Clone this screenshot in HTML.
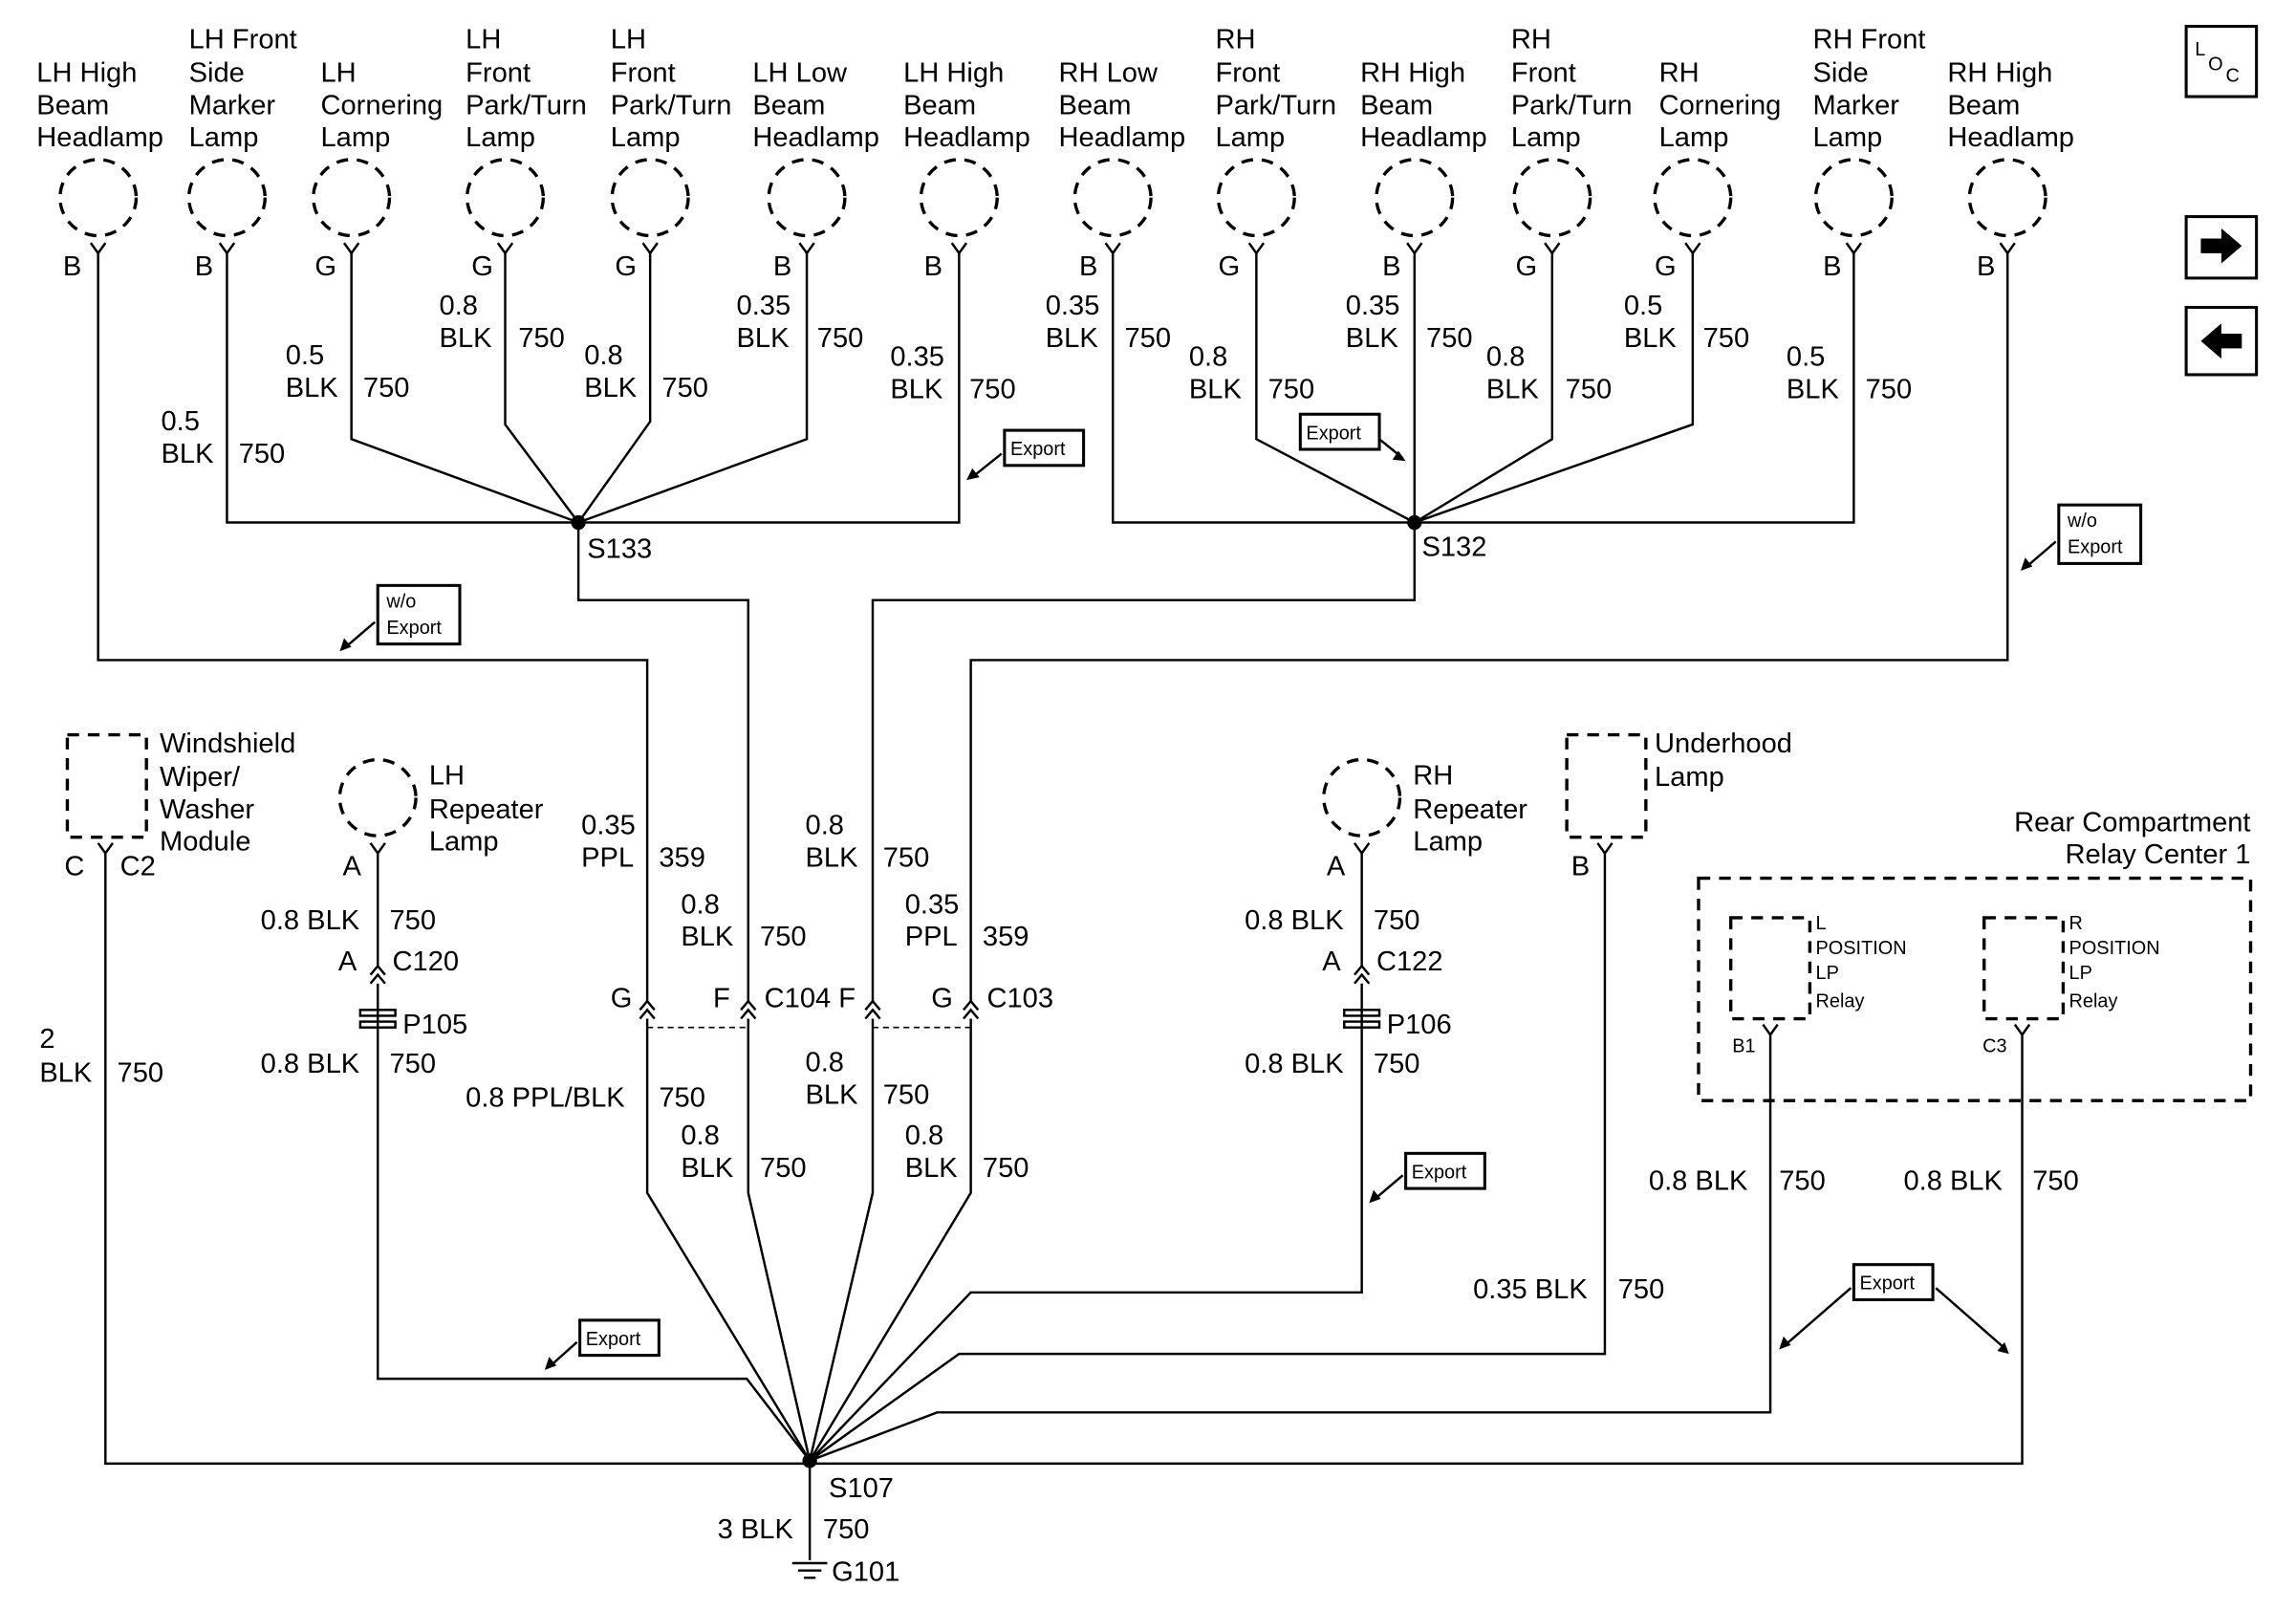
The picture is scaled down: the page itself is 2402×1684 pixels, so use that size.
<!DOCTYPE html>
<html><head><meta charset="utf-8"><style>
html,body{margin:0;padding:0;background:#fff;}
svg{display:block}
text{font-family:"Liberation Sans",Arial,sans-serif;font-size:19px;fill:#000}
.s{font-size:13px}
</style></head><body>
<svg width="2402" height="1684" viewBox="0 0 1568 1100" preserveAspectRatio="none" xmlns="http://www.w3.org/2000/svg">
<g fill="none" stroke="#000" stroke-width="1.6">
<g stroke-dasharray="8,6" stroke-width="2.2">
<circle cx="67" cy="135" r="26"/><circle cx="155" cy="135" r="26"/><circle cx="240" cy="135" r="26"/>
<circle cx="345" cy="135" r="26"/><circle cx="444" cy="135" r="26"/><circle cx="551" cy="135" r="26"/>
<circle cx="655" cy="135" r="26"/><circle cx="760" cy="135" r="26"/><circle cx="858" cy="135" r="26"/>
<circle cx="966" cy="135" r="26"/><circle cx="1060" cy="135" r="26"/><circle cx="1156" cy="135" r="26"/>
<circle cx="1266" cy="135" r="26"/><circle cx="1371" cy="135" r="26"/>
<circle cx="258" cy="545" r="26"/><circle cx="930" cy="545" r="26"/>
<rect x="46" y="502" width="54" height="70"/><rect x="1070" y="502" width="54" height="70"/>
<rect x="1160" y="600" width="377" height="152"/>
<rect x="1182" y="627" width="54" height="69"/><rect x="1355" y="627" width="54" height="69"/>
<path d="M442 702H511M596 702H663" stroke-width="1" stroke-dasharray="4,3"/>
</g>
<g>
<path d="M62 166L67 173L72 166M150 166L155 173L160 166M235 166L240 173L245 166M340 166L345 173L350 166M439 166L444 173L449 166M546 166L551 173L556 166M650 166L655 173L660 166M755 166L760 173L765 166M853 166L858 173L863 166M961 166L966 173L971 166M1055 166L1060 173L1065 166M1151 166L1156 173L1161 166M1261 166L1266 173L1271 166M1366 166L1371 173L1376 166"/>
<path d="M253 576L258 583L263 576M925 576L930 583L935 576M67 576L72 583L77 576M1091 576L1096 583L1101 576M1204 700L1209 707L1214 700M1376 700L1381 707L1386 700"/>
<path d="M253 666L258 660L263 666M253 672L258 666L263 672M925 666L930 660L935 666M925 672L930 666L935 672"/>
<path d="M437 690L442 684L447 690M437 696L442 690L447 696M506 690L511 684L516 690M506 696L511 690L516 696M591 690L596 684L601 690M591 696L596 690L601 696M658 690L663 684L668 690M658 696L663 690L668 696"/>
</g>
<path d="M67 173V451H442V684"/>
<path d="M155 173V357H395M240 173V300L395 357M345 173V290L395 357M444 173V288L395 357M551 173V300L395 357M655 173V357H395"/>
<path d="M395 357V410H511V684"/>
<path d="M760 173V357H966M858 173V300L966 357M966 173V357M1060 173V300L966 357M1156 173V290L966 357M1266 173V357H966"/>
<path d="M966 357V410H596V684"/>
<path d="M1371 173V451H663V684"/>
<path d="M442 696V815L553 998M511 696V815L553 998M596 696V815L553 998M663 696V815L553 998"/>
<path d="M72 583V1000H1381V707"/>
<path d="M258 583V660M258 672V942H510L553 998"/>
<path d="M930 583V660M930 672V883H663L553 998"/>
<path d="M1096 583V925H655L553 998"/>
<path d="M1209 707V965H640L553 998"/>
<path d="M553 998V1066"/>
<path d="M541 1068H565M545 1073H561M549 1078H557"/>
<rect x="246" y="690" width="24" height="4"/><rect x="246" y="698" width="24" height="4"/>
<rect x="918" y="690" width="24" height="4"/><rect x="918" y="698" width="24" height="4"/>
<g stroke-width="2"><rect x="686" y="294" width="54" height="24"/><rect x="888" y="283" width="54" height="24"/>
<rect x="258" y="400" width="56" height="40"/><rect x="1406" y="345" width="56" height="40"/>
<rect x="960" y="788" width="54" height="24"/><rect x="396" y="902" width="54" height="24"/>
<rect x="1266" y="864" width="54" height="24"/>
<rect x="1493" y="18" width="48" height="48"/><rect x="1493" y="148" width="48" height="42"/><rect x="1493" y="210" width="48" height="46"/></g>
<path d="M684 310L664 326M942 300L958 313M256 425L235 443M1404 370L1383 388M958 803L938 820M394 917L375 934M1264 880L1218 920M1322 880L1370 922"/>
</g>
<g fill="#000">
<path d="M660 328l9-2-5-6zM960 315l-9-1 4-6zM232 445l8-3-5-6zM1380 390l8-3-5-6zM935 822l8-3-5-6zM372 936l8-3-5-6zM1215 922l8-3-5-6zM1372 925l-3-8-5 6z"/>
<circle cx="395" cy="357" r="5"/><circle cx="966" cy="357" r="5"/><circle cx="553" cy="998" r="5"/>
<path d="M1503 163h14v-7l14 12-14 12v-7h-14z"/><path d="M1531 228h-14v-7l-14 12 14 12v-7h14z"/>
</g>
<text x="1499" y="38" class="s">L</text><text x="1508" y="48" class="s">O</text><text x="1520" y="56" class="s">C</text>
<text x="25" y="56">LH High</text><text x="25" y="78">Beam</text><text x="25" y="100">Headlamp</text>
<text x="129" y="33">LH Front</text><text x="129" y="56">Side</text><text x="129" y="78">Marker</text><text x="129" y="100">Lamp</text>
<text x="219" y="56">LH</text><text x="219" y="78">Cornering</text><text x="219" y="100">Lamp</text>
<text x="318" y="33">LH</text><text x="318" y="56">Front</text><text x="318" y="78">Park/Turn</text><text x="318" y="100">Lamp</text>
<text x="417" y="33">LH</text><text x="417" y="56">Front</text><text x="417" y="78">Park/Turn</text><text x="417" y="100">Lamp</text>
<text x="514" y="56">LH Low</text><text x="514" y="78">Beam</text><text x="514" y="100">Headlamp</text>
<text x="617" y="56">LH High</text><text x="617" y="78">Beam</text><text x="617" y="100">Headlamp</text>
<text x="723" y="56">RH Low</text><text x="723" y="78">Beam</text><text x="723" y="100">Headlamp</text>
<text x="830" y="33">RH</text><text x="830" y="56">Front</text><text x="830" y="78">Park/Turn</text><text x="830" y="100">Lamp</text>
<text x="929" y="56">RH High</text><text x="929" y="78">Beam</text><text x="929" y="100">Headlamp</text>
<text x="1032" y="33">RH</text><text x="1032" y="56">Front</text><text x="1032" y="78">Park/Turn</text><text x="1032" y="100">Lamp</text>
<text x="1133" y="56">RH</text><text x="1133" y="78">Cornering</text><text x="1133" y="100">Lamp</text>
<text x="1238" y="33">RH Front</text><text x="1238" y="56">Side</text><text x="1238" y="78">Marker</text><text x="1238" y="100">Lamp</text>
<text x="1330" y="56">RH High</text><text x="1330" y="78">Beam</text><text x="1330" y="100">Headlamp</text>
<text x="43" y="188">B</text><text x="133" y="188">B</text><text x="215" y="188">G</text><text x="322" y="188">G</text>
<text x="420" y="188">G</text><text x="528" y="188">B</text><text x="631" y="188">B</text><text x="737" y="188">B</text>
<text x="832" y="188">G</text><text x="944" y="188">B</text><text x="1035" y="188">G</text><text x="1130" y="188">G</text>
<text x="1245" y="188">B</text><text x="1350" y="188">B</text>
<text x="110" y="294">0.5</text><text x="110" y="316">BLK</text><text x="163" y="316">750</text>
<text x="195" y="249">0.5</text><text x="195" y="271">BLK</text><text x="248" y="271">750</text>
<text x="300" y="215">0.8</text><text x="300" y="237">BLK</text><text x="354" y="237">750</text>
<text x="399" y="249">0.8</text><text x="399" y="271">BLK</text><text x="452" y="271">750</text>
<text x="503" y="215">0.35</text><text x="503" y="237">BLK</text><text x="558" y="237">750</text>
<text x="608" y="250">0.35</text><text x="608" y="272">BLK</text><text x="662" y="272">750</text>
<text x="714" y="215">0.35</text><text x="714" y="237">BLK</text><text x="768" y="237">750</text>
<text x="812" y="250">0.8</text><text x="812" y="272">BLK</text><text x="866" y="272">750</text>
<text x="919" y="215">0.35</text><text x="919" y="237">BLK</text><text x="974" y="237">750</text>
<text x="1015" y="250">0.8</text><text x="1015" y="272">BLK</text><text x="1069" y="272">750</text>
<text x="1109" y="215">0.5</text><text x="1109" y="237">BLK</text><text x="1163" y="237">750</text>
<text x="1220" y="250">0.5</text><text x="1220" y="272">BLK</text><text x="1274" y="272">750</text>
<text x="401" y="381">S133</text><text x="971" y="380">S132</text>
<text x="690" y="311" class="s">Export</text><text x="892" y="300" class="s">Export</text>
<text x="264" y="415" class="s">w/o</text><text x="264" y="433" class="s">Export</text>
<text x="1412" y="360" class="s">w/o</text><text x="1412" y="378" class="s">Export</text>
<text x="964" y="805" class="s">Export</text><text x="400" y="919" class="s">Export</text><text x="1270" y="881" class="s">Export</text>
<text x="109" y="514">Windshield</text><text x="109" y="537">Wiper/</text><text x="109" y="559">Washer</text><text x="109" y="581">Module</text>
<text x="44" y="598">C</text><text x="82" y="598">C2</text>
<text x="293" y="536">LH</text><text x="293" y="559">Repeater</text><text x="293" y="581">Lamp</text>
<text x="965" y="536">RH</text><text x="965" y="559">Repeater</text><text x="965" y="581">Lamp</text>
<text x="1130" y="514">Underhood</text><text x="1130" y="537">Lamp</text><text x="1073" y="598">B</text>
<text x="1537" y="568" text-anchor="end">Rear Compartment</text><text x="1537" y="590" text-anchor="end">Relay Center 1</text>
<text x="1240" y="635" class="s">L</text><text x="1240" y="652" class="s">POSITION</text><text x="1240" y="669" class="s">LP</text><text x="1240" y="688" class="s">Relay</text>
<text x="1413" y="635" class="s">R</text><text x="1413" y="652" class="s">POSITION</text><text x="1413" y="669" class="s">LP</text><text x="1413" y="688" class="s">Relay</text>
<text x="1183" y="719" class="s">B1</text><text x="1354" y="719" class="s">C3</text>
<text x="234" y="598">A</text><text x="906" y="598">A</text>
<text x="178" y="635">0.8 BLK</text><text x="266" y="635">750</text>
<text x="850" y="635">0.8 BLK</text><text x="938" y="635">750</text>
<text x="231" y="663">A</text><text x="268" y="663">C120</text><text x="903" y="663">A</text><text x="940" y="663">C122</text>
<text x="275" y="706">P105</text><text x="947" y="706">P106</text>
<text x="178" y="733">0.8 BLK</text><text x="266" y="733">750</text>
<text x="850" y="733">0.8 BLK</text><text x="938" y="733">750</text>
<text x="27" y="716">2</text><text x="27" y="739">BLK</text><text x="80" y="739">750</text>
<text x="397" y="570">0.35</text><text x="397" y="592">PPL</text><text x="450" y="592">359</text>
<text x="465" y="624">0.8</text><text x="465" y="646">BLK</text><text x="519" y="646">750</text>
<text x="550" y="570">0.8</text><text x="550" y="592">BLK</text><text x="603" y="592">750</text>
<text x="618" y="624">0.35</text><text x="618" y="646">PPL</text><text x="671" y="646">359</text>
<text x="417" y="688">G</text><text x="487" y="688">F</text><text x="522" y="688">C104 F</text><text x="636" y="688">G</text><text x="674" y="688">C103</text>
<text x="318" y="756">0.8 PPL/BLK</text><text x="450" y="756">750</text>
<text x="465" y="782">0.8</text><text x="465" y="804">BLK</text><text x="519" y="804">750</text>
<text x="550" y="732">0.8</text><text x="550" y="754">BLK</text><text x="603" y="754">750</text>
<text x="618" y="782">0.8</text><text x="618" y="804">BLK</text><text x="671" y="804">750</text>
<text x="1126" y="813">0.8 BLK</text><text x="1215" y="813">750</text>
<text x="1300" y="813">0.8 BLK</text><text x="1388" y="813">750</text>
<text x="1006" y="887">0.35 BLK</text><text x="1105" y="887">750</text>
<text x="566" y="1023">S107</text>
<text x="490" y="1051">3 BLK</text><text x="562" y="1051">750</text>
<text x="568" y="1080">G101</text>
</svg>
</body></html>
